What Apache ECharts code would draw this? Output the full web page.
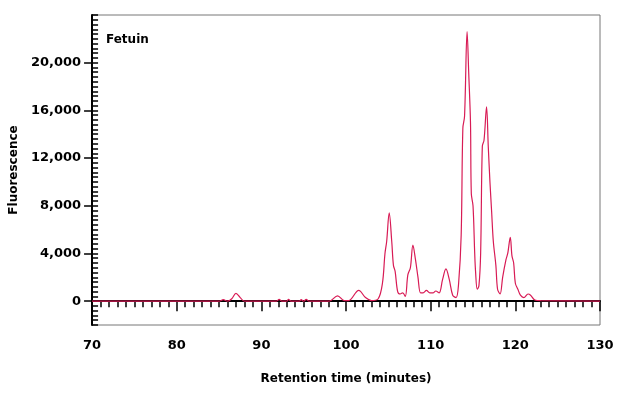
<!DOCTYPE html>
<html><head><meta charset="utf-8">
<script src="https://cdn.jsdelivr.net/npm/echarts@6/dist/echarts.min.js"></script>
<style>html,body{margin:0;padding:0;background:#fff}#c{width:620px;height:402px}</style>
</head><body><div id="c"></div>
<script>
const times = [70,85,85.5,86,86.5,87,87.5,88,91.8,92.1,92.4,93,93.2,93.5,94.5,94.7,95,95.3,95.6,98,99,99.8,100.3,101.5,102.3,103,103.8,104.3,104.6,104.8,105.1,105.4,105.6,105.8,106.1,106.4,106.7,107,107.3,107.6,107.9,108.2,108.5,108.8,109.1,109.5,109.9,110.3,110.6,111,111.4,111.8,112.2,112.6,113,113.3,113.6,113.8,114.0,114.3,114.5,114.7,114.8,115,115.2,115.3,115.5,115.7,115.9,116.1,116.3,116.6,116.8,117,117.2,117.4,117.7,117.9,118.2,118.5,118.9,119.1,119.4,119.6,119.8,120.0,120.3,120.6,121,121.5,121.8,122.3,123,130];
const fluor = [0,0,120,0,200,650,300,0,0,150,0,0,150,0,0,120,0,150,0,0,450,50,50,900,300,50,200,1500,4000,5000,7400,5000,3000,2500,800,600,700,400,2200,2800,4700,3500,2000,700,700,900,700,700,850,700,1800,2700,1800,500,300,1500,5500,14500,15500,22600,19000,15000,9000,8000,4000,2500,1000,1300,4000,13000,13500,16300,13000,10000,7500,5000,3000,1000,600,2000,3500,4000,5350,3800,3200,1500,1000,500,300,600,500,100,50,0];
const yLabels = [0,4000,8000,12000,16000,20000];
const font = 'DejaVu Sans';
const data = times.map((t,i)=>[t,fluor[i]]);
const chart = echarts.init(document.getElementById('c'));
chart.setOption({
  animation:false,
  grid:{left:89,right:20,top:15,bottom:77,show:true,borderColor:'#777',borderWidth:1},
  title:{text:'Fetuin',left:101,top:29,textStyle:{fontFamily:font,fontSize:12,fontWeight:'bold',color:'#000'}},
  xAxis:{type:'value',min:70,max:130,interval:10,
    name:'Retention time (minutes)',nameLocation:'middle',nameGap:48,
    nameTextStyle:{fontFamily:font,fontSize:12,fontWeight:'bold',color:'#000'},
    axisLine:{lineStyle:{color:'#000',width:2}},
    axisTick:{length:10,lineStyle:{color:'#000',width:1.5}},
    minorTick:{show:true,splitNumber:10,length:6,lineStyle:{color:'#000',width:1.5}},
    axisLabel:{fontFamily:font,fontSize:13,fontWeight:'bold',color:'#000',margin:14},
    splitLine:{show:false}},
  yAxis:[{type:'value',min:-2000,max:24000,
    name:'Fluorescence',nameLocation:'middle',nameGap:66,
    nameTextStyle:{fontFamily:font,fontSize:12,fontWeight:'bold',color:'#000'},
    axisLine:{show:true,lineStyle:{color:'#000',width:2}},
    axisTick:{show:true,customValues:yLabels,length:8,lineStyle:{color:'#000',width:1.5}},
    axisLabel:{customValues:yLabels,fontFamily:font,fontSize:13,fontWeight:'bold',color:'#000',margin:11,
      formatter:v=>v.toLocaleString('en-US')},
    splitLine:{show:false}},
   {type:'value',min:-2000,max:24000,interval:400,position:'left',
    axisLine:{show:false},
    axisTick:{show:true,inside:true,length:6,lineStyle:{color:'#000',width:1.5}},
    axisLabel:{show:false},splitLine:{show:false}}],
  series:[{type:'line',data:data,showSymbol:false,smooth:0.35,
    lineStyle:{color:'#d81b55',width:1.2}}]
});
</script></body></html>
